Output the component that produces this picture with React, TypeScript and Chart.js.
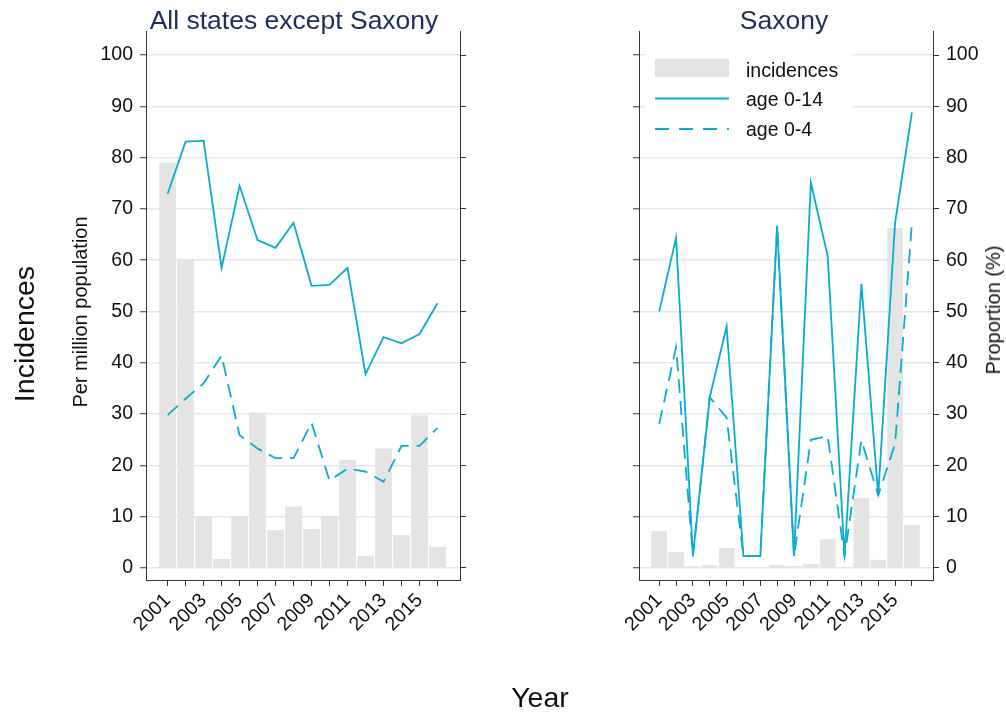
import React, { useEffect, useRef } from 'react';
import { Chart, registerables } from 'chart.js';

Chart.register(...registerables);

// ---------- data ----------
const years = [2001, 2002, 2003, 2004, 2005, 2006, 2007, 2008, 2009, 2010, 2011, 2012, 2013, 2014, 2015, 2016];
const yTickValues = [0, 10, 20, 30, 40, 50, 60, 70, 80, 90, 100];

const restIncidences = [79, 60, 10, 1.75, 10, 30.3, 7.4, 12, 7.6, 10.2, 21.1, 2.3, 23.3, 6.4, 29.8, 4.1];
const restAge014 = [72.9, 83.1, 83.3, 58.5, 74.5, 63.9, 62.4, 67.3, 55.0, 55.2, 58.5, 37.8, 45.0, 43.8, 45.6, 51.6];
const restAge04 = [29.8, 33.0, 36.0, 41.4, 25.9, 23.3, 21.4, 21.4, 28.3, 17.0, 19.4, 18.8, 16.8, 23.8, 23.8, 27.3];

const saxIncidences = [7.2, 3.1, 0.35, 0.6, 3.9, 0.1, 0.1, 0.6, 0.4, 0.8, 5.6, 0.15, 13.6, 1.6, 66.3, 8.4];
const saxAge014 = [50.0, 64.4, 2.3, 33.3, 47.1, 2.3, 2.3, 66.7, 2.3, 75.1, 60.8, 2.3, 55.4, 14.2, 67.3, 88.8];
const saxAge04 = [28.1, 43.0, 2.3, 33.3, 29.3, 2.3, 2.3, 66.7, 2.3, 25.0, 25.7, 2.3, 24.9, 14.2, 24.2, 67.3];

const legendLabels = ['incidences', 'age 0-14', 'age 0-4'];

// ---------- style ----------
const FONT = "'Liberation Sans', Arial, Helvetica, sans-serif";
const LINE = '#0aabd0';
const BAR = '#e4e4e4';
const GRID = '#e6e6e6';
const AXIS = '#333333';
const TEXT = '#111111';
const TITLE = '#1d2e5c';
const TICK_FONT = 19.5;
const LINE_W = 1.8;
const DASH = [14, 8];

const X_MIN = 1999.8;
const X_MAX = 2017.25;
const Y_MIN = -2.34;
const Y_MAX = 104.68;

function buildConfig(inc: number[], a14: number[], a04: number[], side: 'left' | 'right'): any {
  const isLeft = side === 'left';
  const leftW = isLeft ? 146 : 139;
  const rightW = isLeft ? 40 : 73;

  const legendPlugin = {
    id: 'insideLegend',
    beforeDatasetsDraw(chart: any) {
      if (isLeft) return;
      const ctx = chart.ctx;
      const ox = -500;
      ctx.save();
      ctx.fillStyle = '#ffffff';
      ctx.fillRect(645 + ox, 42, 207, 102);
      // bar swatch
      ctx.fillStyle = BAR;
      ctx.fillRect(655 + ox, 58.5, 74, 18.5);
      // solid line
      ctx.strokeStyle = LINE;
      ctx.lineWidth = LINE_W;
      ctx.beginPath();
      ctx.moveTo(655 + ox, 98.5);
      ctx.lineTo(729 + ox, 98.5);
      ctx.stroke();
      // dashed line
      ctx.setLineDash([14, 10]);
      ctx.beginPath();
      ctx.moveTo(655 + ox, 129);
      ctx.lineTo(729 + ox, 129);
      ctx.stroke();
      ctx.setLineDash([]);
      ctx.fillStyle = TEXT;
      ctx.font = `${TICK_FONT}px ${FONT}`;
      ctx.textAlign = 'left';
      ctx.textBaseline = 'alphabetic';
      ctx.fillText(legendLabels[0], 746 + ox, 76.7);
      ctx.fillText(legendLabels[1], 746 + ox, 106.3);
      ctx.fillText(legendLabels[2], 746 + ox, 136);
      ctx.restore();
    },
  };

  const setYTicks = (s: any) => {
    s.ticks = yTickValues.map((v) => ({ value: v }));
  };

  return {
    type: 'bar',
    data: {
      datasets: [
        {
          type: 'line',
          label: legendLabels[1],
          data: years.map((x, i) => ({ x, y: a14[i] })),
          borderColor: LINE,
          borderWidth: LINE_W,
          pointRadius: 0,
          tension: 0,
          fill: false,
          order: 1,
        },
        {
          type: 'line',
          label: legendLabels[2],
          data: years.map((x, i) => ({ x, y: a04[i] })),
          borderColor: LINE,
          borderWidth: LINE_W,
          borderDash: DASH,
          pointRadius: 0,
          tension: 0,
          fill: false,
          order: 1,
        },
        {
          type: 'bar',
          label: legendLabels[0],
          data: years.map((x, i) => ({ x, y: inc[i] })),
          backgroundColor: BAR,
          borderWidth: 0,
          barPercentage: 0.93,
          categoryPercentage: 1,
          order: 2,
        },
      ],
    },
    options: {
      responsive: false,
      animation: false,
      devicePixelRatio: 1,
      events: [],
      layout: { padding: { top: 31, left: 0, right: 0, bottom: 0 } },
      plugins: { legend: { display: false }, tooltip: { enabled: false }, title: { display: false } },
      scales: {
        x: {
          type: 'linear',
          min: X_MIN,
          max: X_MAX,
          offset: false,
          afterBuildTicks: (s: any) => {
            s.ticks = years.map((v) => ({ value: v }));
          },
          afterFit: (s: any) => {
            s.height = 133;
          },
          grid: { drawOnChartArea: false, offset: false, tickLength: 6, tickColor: AXIS, tickWidth: 1 },
          border: { display: true, color: AXIS, width: 1 },
          ticks: {
            autoSkip: false,
            minRotation: 45,
            maxRotation: 45,
            padding: 3,
            color: TEXT,
            font: { size: TICK_FONT, family: FONT },
            callback: (v: any) => (Number(v) % 2 === 1 ? String(v) : ''),
          },
        },
        y: {
          position: 'left',
          min: Y_MIN,
          max: Y_MAX,
          afterBuildTicks: setYTicks,
          afterFit: (s: any) => {
            s.width = leftW;
          },
          grid: { drawOnChartArea: true, color: GRID, lineWidth: 1.5, tickLength: 6, tickColor: AXIS, tickWidth: 1 },
          border: { display: true, color: AXIS, width: 1 },
          ticks: {
            padding: 7,
            color: TEXT,
            font: { size: TICK_FONT, family: FONT },
            callback: (v: any) => (isLeft ? String(v) : ''),
          },
        },
        y2: {
          position: 'right',
          min: Y_MIN,
          max: Y_MAX,
          afterBuildTicks: setYTicks,
          afterFit: (s: any) => {
            s.width = rightW;
          },
          grid: { drawOnChartArea: false, tickLength: 6, tickColor: AXIS, tickWidth: 1 },
          border: { display: true, color: AXIS, width: 1 },
          ticks: {
            padding: 7,
            color: TEXT,
            font: { size: TICK_FONT, family: FONT },
            callback: (v: any) => (isLeft ? '' : String(v)),
          },
        },
      },
    },
    plugins: [legendPlugin],
  };
}

function Panel(props: { inc: number[]; a14: number[]; a04: number[]; side: 'left' | 'right'; left: number; width: number }) {
  const ref = useRef<HTMLCanvasElement | null>(null);
  useEffect(() => {
    if (!ref.current) return;
    const chart = new Chart(ref.current, buildConfig(props.inc, props.a14, props.a04, props.side));
    return () => chart.destroy();
  }, []);
  return (
    <canvas
      ref={ref}
      width={props.width}
      height={713}
      style={{ position: 'absolute', left: props.left, top: 0, width: props.width, height: 713 }}
    />
  );
}

function Label(props: { text: string; x: number; y: number; size: number; color?: string; rotate?: boolean }) {
  return (
    <div
      style={{
        position: 'absolute',
        left: props.x,
        top: props.y,
        transform: `translate(-50%, -50%)${props.rotate ? ' rotate(-90deg)' : ''}`,
        fontFamily: FONT,
        fontSize: props.size,
        lineHeight: 1,
        color: props.color || TEXT,
        whiteSpace: 'nowrap',
      }}
    >
      {props.text}
    </div>
  );
}

export default function App() {
  return (
    <div style={{ position: 'absolute', left: 0, top: 0, width: 1006, height: 713, background: '#fff', overflow: 'hidden' }}>
      <Panel inc={restIncidences} a14={restAge014} a04={restAge04} side="left" left={0} width={500} />
      <Panel inc={saxIncidences} a14={saxAge014} a04={saxAge04} side="right" left={500} width={506} />
      <Label text="All states except Saxony" x={294} y={19.5} size={26.5} color={TITLE} />
      <Label text="Saxony" x={784} y={19.5} size={26.5} color={TITLE} />
      <Label text="Year" x={540} y={697} size={28.5} />
      <Label text="Incidences" x={24} y={334} size={28.5} rotate />
      <Label text="Per million population" x={80} y={312} size={20} rotate />
      <Label text="Proportion (%)" x={993} y={310} size={20} rotate />
    </div>
  );
}
